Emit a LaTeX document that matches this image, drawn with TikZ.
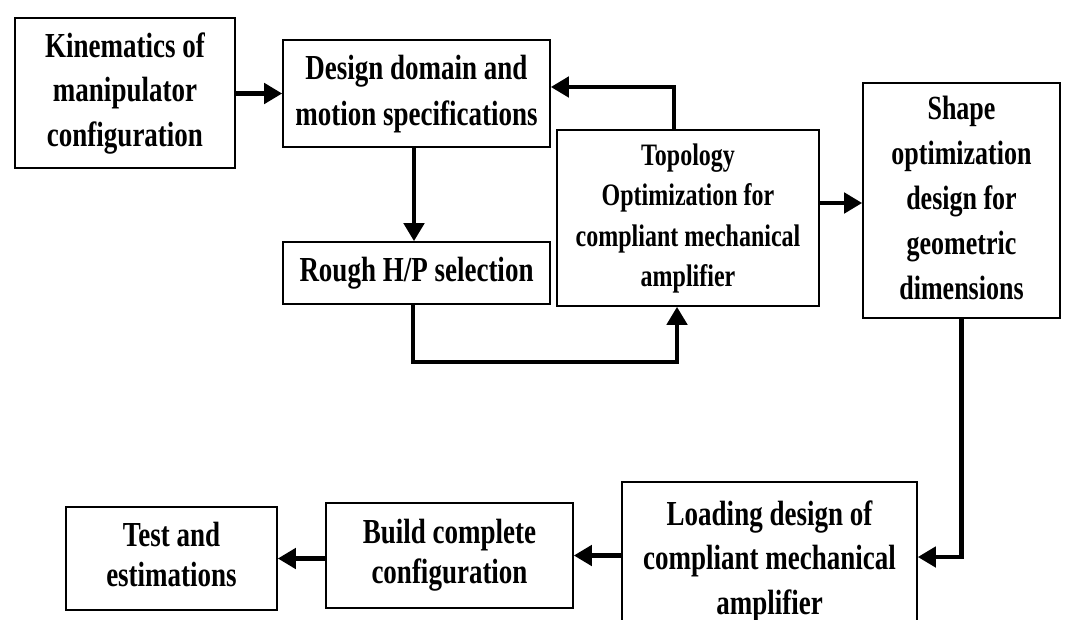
\documentclass[tikz,border=0pt]{standalone}
\usepackage{graphicx}
\usepackage{fontspec}
\setmainfont{Liberation Serif}
\usetikzlibrary{positioning, arrows.meta}
\newcommand{\talltext}[1]{\scalebox{1}[1.3]{\begin{tabular}{@{}c@{}}#1\end{tabular}}}
\tikzstyle{block} = [rectangle, draw=black, line width=1.6pt, align=center, inner sep=2pt, font=\fontsize{27}{34}\selectfont\bfseries]
\tikzstyle{arrow} = [line width=4.5pt, -{Triangle[length=18pt,width=20pt]}]
\begin{document}
\begin{tikzpicture}[x=1pt, y=-1pt]
	\clip (0,0) rectangle (1068,620);
	\node (kin) [block, minimum width=220pt, minimum height=150pt] at (125,93) {\talltext{Kinematics of\\manipulator\\configuration}};
	\node (design) [block, minimum width=267pt, minimum height=107pt, font=\fontsize{27}{35}\selectfont\bfseries] at (416.5,93.5) {\talltext{Design domain and\\motion specifications}};
	\node (rough) [block, minimum width=267pt, minimum height=62pt] at (416.5,273) {\talltext{Rough H/P selection}};
	\node (topo) [block, minimum width=262pt, minimum height=176pt, font=\fontsize{24}{31}\selectfont\bfseries] at (688,218) {\talltext{Topology\\Optimization for\\compliant mechanical\\amplifier}};
	\node (shape) [block, minimum width=197pt, minimum height=235pt, font=\fontsize{26}{34.5}\selectfont\bfseries] at (961.5,200.5) {\talltext{Shape\\optimization\\design for\\geometric\\dimensions}};
	\node (load) [block, minimum width=295pt, minimum height=158pt] at (769.5,561) {\talltext{Loading design of\\compliant mechanical\\amplifier}};
	\node (build) [block, minimum width=247pt, minimum height=105pt, font=\fontsize{27}{31}\selectfont\bfseries] at (449.5,555.5) {\talltext{Build complete\\configuration}};
	\node (test) [block, minimum width=211pt, minimum height=103pt, font=\fontsize{27}{31}\selectfont\bfseries] at (171.5,558.5) {\talltext{Test and\\estimations}};
	\coordinate (l1) at (413,362);
	\coordinate (l2) at (677,362);
	\draw [arrow] (kin.east |- design.west) -- (design.west);
	\draw [arrow] ([xshift=-2.5pt]design.south) -- ([xshift=-2.5pt]rough.north);
	\draw [arrow] ([xshift=-14pt]topo.north) |- ([yshift=6.5pt]design.east);
	\draw [arrow] (rough.south -| l1) -- (l1) -- (l2) -- (topo.south -| l2);
	\draw [arrow] ([yshift=15pt]topo.east) -- ([yshift=15pt]topo.east -| shape.west);
	\draw [arrow] (shape.south) |- ([yshift=4pt]load.east);
	\draw [arrow] (load.west |- build.east) -- (build.east);
	\draw [arrow] (build.west |- test.east) -- (test.east);
\end{tikzpicture}
\end{document}
